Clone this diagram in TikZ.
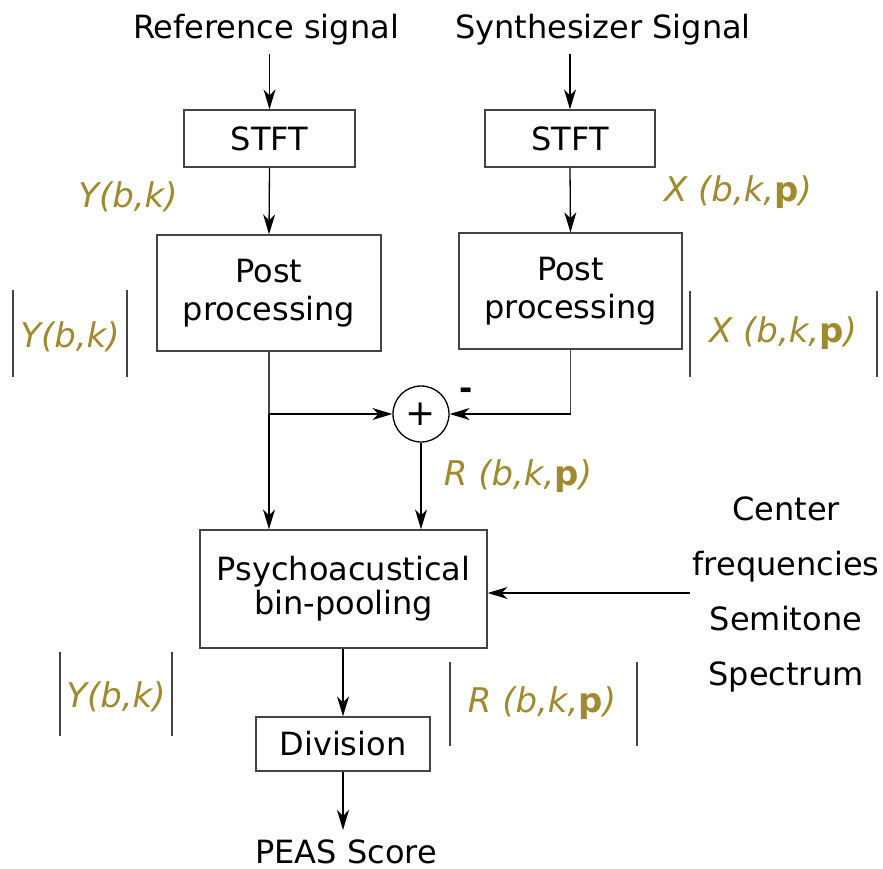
\documentclass[tikz,border=0pt]{standalone}
\usepackage{fontspec}
\setmainfont{DejaVu Sans}
\usetikzlibrary{arrows.meta}
\definecolor{sigcol}{HTML}{A08A30}
\definecolor{boxline}{HTML}{444444}
\tikzset{
  txt/.style={inner sep=0pt, font=\fontsize{32}{40}\selectfont, align=center},
  lbl/.style={inner sep=0pt, text=sigcol, font=\fontsize{34}{40}\selectfont\itshape},
  blk/.style={draw=boxline, line width=1.3pt, inner sep=0pt, align=center,
              font=\fontsize{32}{40}\selectfont},
  arr/.style={draw=black, line width=1.3pt,
              -{Stealth[length=20pt,width=12pt,inset=6pt]}},
  wire/.style={draw=boxline, line width=1.3pt},
  absbar/.style={draw=boxline, line width=1.3pt},
}
\newcommand{\bp}{{\upshape\bfseries p}}
\begin{document}
\begin{tikzpicture}[x=1pt,y=-1pt]
\useasboundingbox (0,0) rectangle (883,869);

% inputs
\node[txt] (refsig) at (266,30) {Reference signal};
\node[txt] (synsig) at (603,30) {Synthesizer Signal};

% processing chain, reference branch
\node[blk, minimum width=171pt, minimum height=57pt] (stftL) at (269.5,138.5) {STFT};
\node[blk, minimum width=224pt, minimum height=116pt] (postL) at (269,293) {Post\\[-2pt]processing};

% processing chain, synthesizer branch
\node[blk, minimum width=170pt, minimum height=57pt] (stftR) at (570,138.5) {STFT};
\node[blk, minimum width=223pt, minimum height=116pt] (postR) at (570.5,291) {Post\\[-2pt]processing};

% difference
\node[draw=black, line width=1.3pt, circle, minimum size=56pt, inner sep=0pt,
      font=\fontsize{36}{40}\selectfont] (sum) at (421,414) {+};
\node[inner sep=0pt, font=\fontsize{32}{40}\selectfont\bfseries] (minus) at (466,394) {-};

% pooling and score
\node[blk, minimum width=287pt, minimum height=118pt] (psy) at (343.5,589) {Psychoacustical\\[-6pt]bin-pooling};
\node[blk, minimum width=174pt, minimum height=54pt] (div) at (343,744) {Division};
\node[txt] (peas) at (346,852) {PEAS Score};
\node[txt, font=\fontsize{32}{55}\selectfont] (cf) at (786,594) {Center\\frequencies\\Semitone\\Spectrum};

% signal labels
\node[lbl] (yL) at (128,197) {Y(b,k)};
\node[lbl] (xR) at (738,192) {X (b,k,\bp)};
\node[lbl] (rS) at (518,476) {R (b,k,\bp)};
\node[lbl] (yabs1) at (70,337) {Y(b,k)};
\node[lbl] (xabs) at (783,333) {X (b,k,\bp)};
\node[lbl] (yabs2) at (116,697) {Y(b,k)};
\node[lbl] (rabs) at (542,703) {R (b,k,\bp)};

% magnitude bars
\draw[absbar] (13,290) -- (13,377);
\draw[absbar] (127,290) -- (127,377);
\draw[absbar] (690,291) -- (690,377);
\draw[absbar] (877,291) -- (877,377);
\draw[absbar] (60,652) -- (60,736);
\draw[absbar] (172,652) -- (172,736);
\draw[absbar] (450,662) -- (450,746);
\draw[absbar] (637,662) -- (637,746);

% connectors
\draw[arr] (stftL.north |- refsig.south) ++(0,8) -- (stftL.north);
\draw[arr] (stftR.north |- synsig.south) ++(0,8) -- (stftR.north);
\draw[arr] (stftL.south) -- (postL.north);
\draw[arr] (stftR.south) -- (postR.north);

\coordinate (jL) at (postL.south |- sum.center);
\draw[wire] (postL.south) -- (jL);
\draw[arr] (jL) -- (psy.north -| jL);
\draw[arr] (jL) -- (sum.west);
\draw[wire] (postR.south) -- (postR.south |- sum.east);
\draw[arr] (postR.south |- sum.east) -- (sum.east);
\draw[arr] (sum.south) -- (psy.north -| sum.south);

\coordinate (cfin) at (690,593);
\draw[arr] (cfin) -- (psy.east |- cfin);

\coordinate (peasin) at (343,830);
\draw[arr] (psy.south -| div.north) -- (div.north);
\draw[arr] (div.south) -- (peasin);
\end{tikzpicture}
\end{document}
